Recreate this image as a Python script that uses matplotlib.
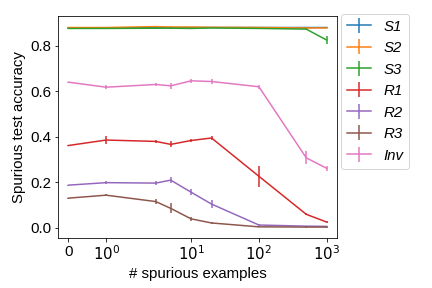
import matplotlib
matplotlib.use("Agg")
import matplotlib.pyplot as plt
import numpy as np

plt.rcParams["font.family"] = ["Liberation Sans", "DejaVu Sans"]

n_spurious = [0, 1, 3, 5, 10, 20, 100, 500, 1000]
series_names = ["S1", "S2", "S3", "R1", "R2", "R3", "Inv"]

s1_mean = [0.878, 0.878, 0.880, 0.880, 0.880, 0.880, 0.880, 0.880, 0.880]
s1_err = [0.002, 0.002, 0.003, 0.003, 0.002, 0.002, 0.002, 0.002, 0.002]
s2_mean = [0.880, 0.880, 0.884, 0.882, 0.882, 0.881, 0.880, 0.878, 0.878]
s2_err = [0.002, 0.002, 0.003, 0.003, 0.002, 0.002, 0.002, 0.002, 0.002]
s3_mean = [0.876, 0.876, 0.877, 0.877, 0.876, 0.878, 0.876, 0.873, 0.825]
s3_err = [0.002, 0.002, 0.002, 0.002, 0.002, 0.002, 0.002, 0.003, 0.018]
r1_mean = [0.362, 0.386, 0.380, 0.367, 0.384, 0.395, 0.227, 0.060, 0.026]
r1_err = [0.002, 0.016, 0.008, 0.013, 0.008, 0.010, 0.045, 0.004, 0.004]
r2_mean = [0.188, 0.199, 0.197, 0.210, 0.157, 0.105, 0.013, 0.008, 0.007]
r2_err = [0.002, 0.008, 0.008, 0.012, 0.013, 0.018, 0.003, 0.002, 0.002]
r3_mean = [0.131, 0.144, 0.116, 0.086, 0.040, 0.022, 0.005, 0.004, 0.004]
r3_err = [0.002, 0.003, 0.010, 0.022, 0.010, 0.004, 0.002, 0.002, 0.002]
inv_mean = [0.640, 0.618, 0.630, 0.624, 0.646, 0.643, 0.620, 0.308, 0.262]
inv_err = [0.002, 0.010, 0.005, 0.013, 0.008, 0.013, 0.008, 0.028, 0.010]

means = [s1_mean, s2_mean, s3_mean, r1_mean, r2_mean, r3_mean, inv_mean]
errs = [s1_err, s2_err, s3_err, r1_err, r2_err, r3_err, inv_err]


def main():
    fig, ax = plt.subplots(figsize=(6, 4), dpi=72)
    fig.subplots_adjust(left=0.135, right=0.78, top=0.945, bottom=0.175)

    for name, mean, err in zip(series_names, means, errs):
        ax.errorbar(n_spurious, mean, yerr=err, label=name, linewidth=1.5)

    ax.set_xscale("symlog", linthresh=2)
    ax.set_xlim(-0.27, 1420)
    ax.set_xticks([0, 1, 10, 100, 1000])
    ax.set_xticklabels(["0", "$10^0$", "$10^1$", "$10^2$", "$10^3$"])
    ax.xaxis.set_minor_locator(matplotlib.ticker.NullLocator())
    ax.set_yticks([0.0, 0.2, 0.4, 0.6, 0.8])
    ax.tick_params(labelsize=15)
    ax.set_xlabel("# spurious examples", fontsize=15)
    ax.set_ylabel("Spurious test accuracy", fontsize=15)

    ax.legend(loc="upper left", bbox_to_anchor=(1.0, 1.03),
              prop={"size": 15, "style": "italic"}, handlelength=1.6,
              borderaxespad=0.3)

    fig.savefig("out.png", dpi=72)
    plt.close(fig)


if __name__ == "__main__":
    main()
